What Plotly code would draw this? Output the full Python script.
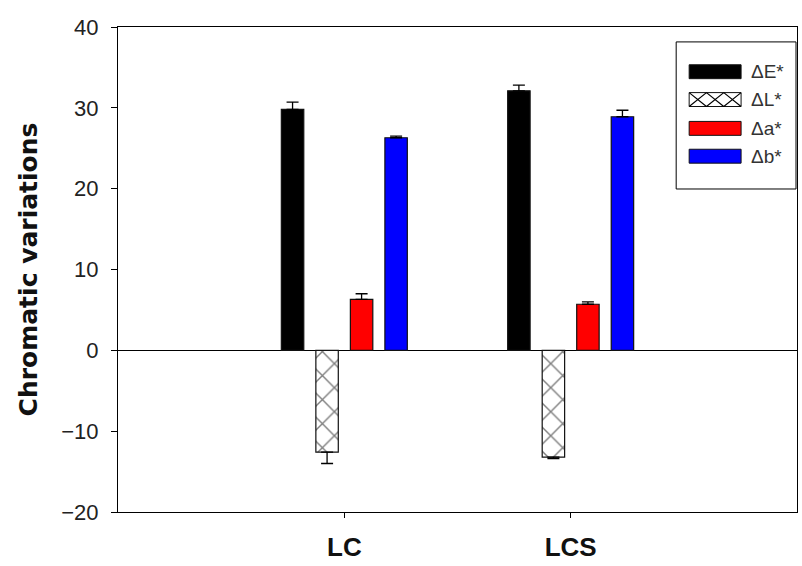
import plotly.graph_objects as go

categories = ["LC", "LCS"]
series_names = ["\u0394E*", "\u0394L*", "\u0394a*", "\u0394b*"]
dE = [29.8, 32.1]
dE_err = [0.9, 0.7]
dL = [-12.6, -13.2]
dL_err = [1.4, 0.2]
da = [6.3, 5.7]
da_err = [0.7, 0.3]
db = [26.3, 28.9]
db_err = [0.2, 0.8]

values = [dE, dL, da, db]
errors = [dE_err, dL_err, da_err, db_err]
colors = ["#000000", "#ffffff", "#ff0000", "#0000ff"]

W, H = 802, 566
ML, MR, MT, MB = 118, 4, 27, 51
PW, PH = W - ML - MR, H - MT - MB


def px(x):
    return (x - ML) / PW


def py(y):
    return (H - MB - y) / PH


fig = go.Figure()
for name, vals, errs, col in zip(series_names, values, errors, colors):
    up = [e if v >= 0 else 0 for v, e in zip(vals, errs)]
    down = [e if v < 0 else 0 for v, e in zip(vals, errs)]
    marker = dict(color=col, line=dict(color="#111111", width=1.2))
    if name == "\u0394L*":
        marker["pattern"] = dict(shape="x", fgcolor="#000000", bgcolor="#ffffff",
                                 size=17, solidity=0.16)
    fig.add_trace(go.Bar(
        x=categories, y=vals, name=name, marker=marker, showlegend=False,
        error_y=dict(type="data", symmetric=False, array=up, arrayminus=down,
                     color="#000000", thickness=1.3, width=6),
    ))

# custom legend (wide swatches as in the reference)
shapes = [dict(type="rect", xref="paper", yref="paper",
               x0=px(677), x1=px(797), y0=py(190), y1=py(42),
               line=dict(color="#000000", width=1), fillcolor="white", layer="above")]
annotations = []
row_y = [72, 100, 129, 157]
for name, col, ry in zip(series_names, colors, row_y):
    shapes.append(dict(type="rect", xref="paper", yref="paper",
                       x0=px(690), x1=px(742), y0=py(ry + 7), y1=py(ry - 7),
                       line=dict(color="#111111", width=1), fillcolor=col, layer="above"))
    if name == "\u0394L*":
        segs = []
        for k in range(3):
            a = 690 + k * 17.33
            b = a + 17.33
            segs.append(f"M{px(a)},{py(ry - 7)} L{px(b)},{py(ry + 7)}")
            segs.append(f"M{px(a)},{py(ry + 7)} L{px(b)},{py(ry - 7)}")
        shapes.append(dict(type="path", xref="paper", yref="paper",
                           path=" ".join(segs), line=dict(color="#000000", width=1.2),
                           layer="above"))
    annotations.append(dict(xref="paper", yref="paper", x=px(750), y=py(ry),
                            xanchor="left", yanchor="middle", showarrow=False,
                            text=name, font=dict(size=19, color="#333333",
                                                 family="Liberation Sans, Arial, sans-serif")))

fig.update_layout(
    width=W, height=H,
    margin=dict(l=ML, r=MR, t=MT, b=MB),
    paper_bgcolor="white", plot_bgcolor="white",
    barmode="group", bargap=0.39, bargroupgap=0.35,
    font=dict(family="Liberation Sans, Arial, sans-serif", color="#000000"),
    showlegend=False,
    shapes=shapes, annotations=annotations,
)
fig.update_xaxes(
    range=[-1, 2], showline=True, linecolor="#000000", linewidth=1, mirror=True,
    ticks="outside", ticklen=5, tickcolor="#000000", ticklabelstandoff=7,
    tickfont=dict(size=26, family="Liberation Sans, Arial, sans-serif", color="#111111"),
    tickvals=categories, ticktext=["<b>LC</b>", "<b>LCS</b>"],
    showgrid=False, zeroline=False,
)
fig.update_yaxes(
    range=[-20, 40], dtick=10, showline=True, linecolor="#000000", linewidth=1, mirror=True,
    ticks="outside", ticklen=6, tickcolor="#000000", ticklabelstandoff=8,
    tickfont=dict(size=22, color="#222222"),
    showgrid=False, zeroline=True, zerolinecolor="#000000", zerolinewidth=1,
    title=dict(text="<b>Chromatic variations</b>",
               font=dict(size=25, family="DejaVu Sans, sans-serif", color="#111111"),
               standoff=16),
)

fig.write_html("out.html")
